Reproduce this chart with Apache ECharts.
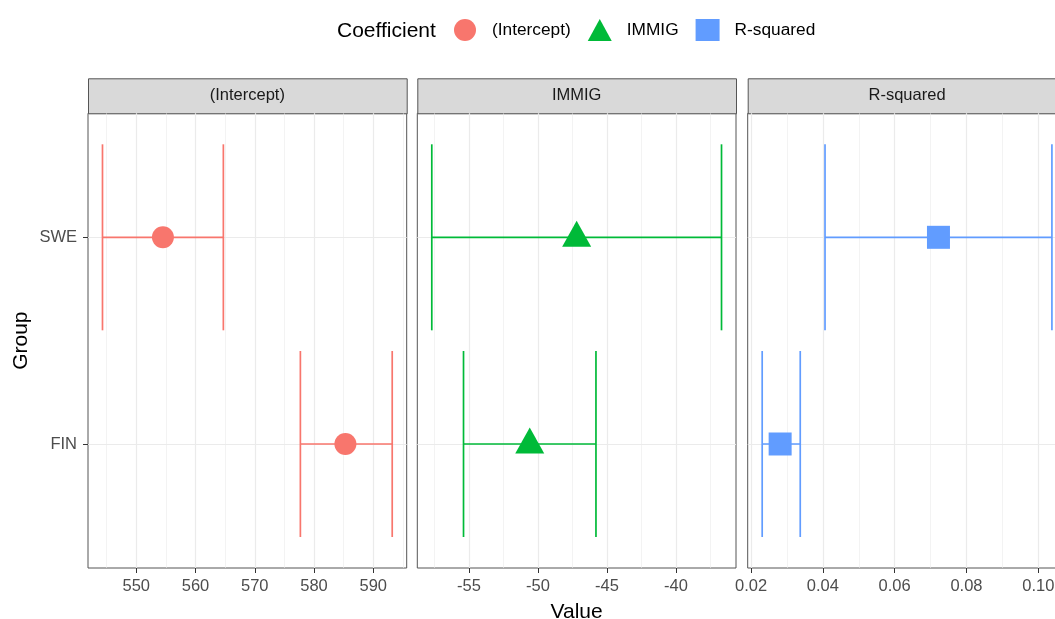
<!DOCTYPE html>
<html><head><meta charset="utf-8">
<script src="https://cdn.jsdelivr.net/npm/echarts@6/dist/echarts.min.js"></script>
<style>html,body{margin:0;padding:0;background:#fff}#c{width:1055px;height:619px}</style>
</head><body><div id="c"></div>
<script>
// ---- data ----
const groups = ['FIN', 'SWE'];
const coefficients = ['(Intercept)', 'IMMIG', 'R-squared'];
const interceptEst = [585.3, 554.5];
const interceptLo  = [577.7, 544.3];
const interceptHi  = [593.2, 564.7];
const immigEst = [-50.6, -47.2];
const immigLo  = [-55.4, -57.7];
const immigHi  = [-45.8, -36.7];
const rsqEst = [0.0281, 0.0722];
const rsqLo  = [0.0231, 0.0406];
const rsqHi  = [0.0337, 0.1038];
const interceptTicks = [550, 560, 570, 580, 590];
const interceptMinor = [545, 555, 565, 575, 585, 595];
const immigTicks = [-55, -50, -45, -40];
const immigMinor = [-57.5, -52.5, -47.5, -42.5, -37.5];
const rsqTicks = [0.02, 0.04, 0.06, 0.08, 0.10];
const rsqMinor = [0.03, 0.05, 0.07, 0.09];

// ---- styling / layout ----
const colors = ['#F8766D', '#00BA38', '#619CFF'];
const symbols = ['circle', 'triangle', 'rect'];
const symSizes = [22, [29, 26], 23];
const symOffsets = [[0, 0], [0, -3.6], [0, 0]];
const FONT = "'Liberation Sans', Arial, Helvetica, sans-serif";
const panelLefts = [88, 417.3, 747.7];
const panelW = 318.7, panelTop = 113.3, panelH = 454.7;
const stripTop = 78.3, stripH = 35;

const est = [interceptEst, immigEst, rsqEst];
const lo = [interceptLo, immigLo, rsqLo];
const hi = [interceptHi, immigHi, rsqHi];
const majors = [interceptTicks, immigTicks, rsqTicks];
const minors = [interceptMinor, immigMinor, rsqMinor];
const fmt = [v => String(v), v => String(v), v => v.toFixed(2)];

const grid = [], xAxis = [], yAxis = [], series = [], graphic = [];
for (let i = 0; i < 3; i++) {
  const dmin = Math.min(...lo[i]), dmax = Math.max(...hi[i]);
  const pad = (dmax - dmin) * 0.05;
  const amin = dmin - pad, amax = dmax + pad;
  grid.push({ left: panelLefts[i], top: panelTop, width: panelW, height: panelH,
    outerBoundsMode: 'none', containLabel: false,
    show: true, borderColor: '#555', borderWidth: 1, backgroundColor: '#fff' });
  xAxis.push({ type: 'value', gridIndex: i, min: amin, max: amax, position: 'bottom',
    axisLine: { show: false },
    axisTick: { show: true, length: 5, customValues: majors[i], lineStyle: { color: '#333', width: 1 } },
    axisLabel: { customValues: majors[i], formatter: fmt[i], color: '#4d4d4d', fontSize: 16.5, fontFamily: FONT, margin: 10 },
    splitLine: { show: true, lineStyle: { color: '#ebebeb', width: 1.2 } },
    name: i === 1 ? 'Value' : '', nameLocation: 'middle', nameGap: 34,
    nameTextStyle: { fontSize: 21, color: '#000', fontFamily: FONT } });
  xAxis.push({ type: 'value', gridIndex: i, min: amin, max: amax, position: 'bottom',
    axisLine: { show: false }, axisLabel: { show: false },
    axisTick: { show: false, customValues: minors[i] },
    splitLine: { show: true, lineStyle: { color: '#ebebeb', width: 0.6 } } });
  yAxis.push({ type: 'value', gridIndex: i, min: 0.4, max: 2.6,
    axisLine: { show: false },
    axisTick: { show: i === 0, length: 5, customValues: [1, 2], lineStyle: { color: '#333' } },
    axisLabel: { show: i === 0, customValues: [1, 2], formatter: v => groups[Math.round(v) - 1] || '',
      color: '#4d4d4d', fontSize: 16.5, fontFamily: FONT, margin: 11 },
    splitLine: { show: true, lineStyle: { color: '#ebebeb', width: 1.2 } },
    name: i === 0 ? 'Group' : '', nameLocation: 'middle', nameGap: 56,
    nameTextStyle: { fontSize: 21, color: '#000', fontFamily: FONT } });

  const barData = groups.map((g, k) => [lo[i][k], hi[i][k], k + 1]);
  series.push({ type: 'custom', name: coefficients[i] + ' CI', xAxisIndex: 2 * i, yAxisIndex: i,
    data: barData, encode: { x: [0, 1], y: 2 }, z: 3, silent: true,
    renderItem: (params, api) => {
      const y = api.value(2);
      const a = api.coord([api.value(0), y]);
      const b = api.coord([api.value(1), y]);
      const t = api.coord([api.value(0), y + 0.45]);
      const s = api.coord([api.value(0), y - 0.45]);
      const st = { stroke: colors[i], lineWidth: 1.7 };
      return { type: 'group', children: [
        { type: 'line', shape: { x1: a[0], y1: a[1], x2: b[0], y2: b[1] }, style: st },
        { type: 'line', shape: { x1: a[0], y1: t[1], x2: a[0], y2: s[1] }, style: st },
        { type: 'line', shape: { x1: b[0], y1: t[1], x2: b[0], y2: s[1] }, style: st }
      ] };
    } });
  series.push({ type: 'scatter', name: coefficients[i], xAxisIndex: 2 * i, yAxisIndex: i,
    data: groups.map((g, k) => [est[i][k], k + 1]), symbol: symbols[i], symbolSize: symSizes[i],
    symbolOffset: symOffsets[i],
    itemStyle: { color: colors[i], opacity: 1 }, z: 4 });

  graphic.push({ type: 'rect', left: panelLefts[i], top: stripTop,
    shape: { width: panelW, height: stripH },
    style: { fill: '#d9d9d9', stroke: '#555', lineWidth: 1 } });
  graphic.push({ type: 'text', x: panelLefts[i] + panelW / 2, y: stripTop + stripH / 2,
    style: { text: coefficients[i], fill: '#1a1a1a', font: '16.5px ' + FONT, align: 'center', verticalAlign: 'middle' } });
}

const chart = echarts.init(document.getElementById('c'));
chart.setOption({
  animation: false,
  backgroundColor: '#fff',
  title: { text: 'Coefficient', left: 337, top: 21, padding: 0,
    textStyle: { fontSize: 21, fontWeight: 'normal', color: '#000', fontFamily: FONT } },
  legend: { left: 454, top: 19, padding: 0, itemWidth: 24, itemGap: 17, itemHeight: 22,
    data: coefficients.map((c, i) => ({ name: c, icon: symbols[i] })),
    textStyle: { fontSize: 17.3, color: '#000', fontFamily: FONT, padding: [0, 0, 0, 10] } },
  grid, xAxis, yAxis, series, graphic
});
</script></body></html>
